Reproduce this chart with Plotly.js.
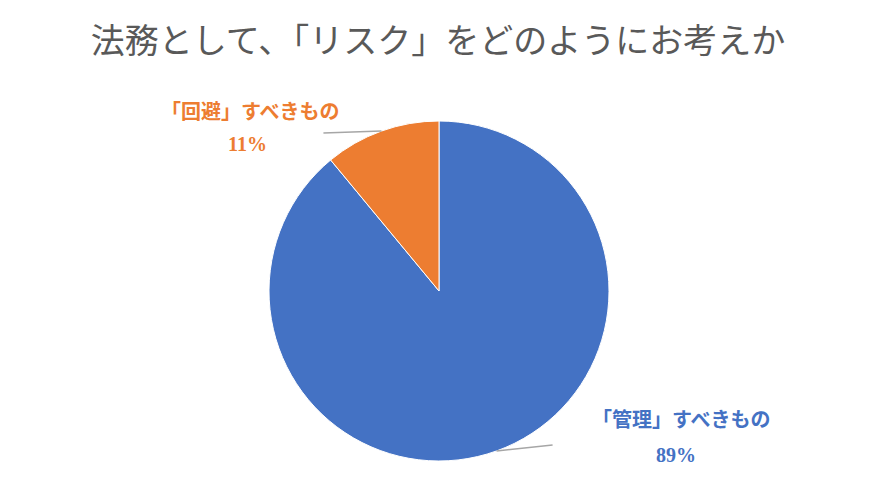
<!DOCTYPE html>
<html>
<head>
<meta charset="utf-8">
<script src="https://cdn.plot.ly/plotly-3.0.1.min.js"></script>
<style>
  html, body { margin: 0; padding: 0; background: #fff; }
  #chart { width: 876px; height: 503px; }
</style>
</head>
<body>
<div id="chart"></div>
<script>
const chartTitle = "法務として、「リスク」をどのようにお考えか";
const categories = ["「管理」すべきもの", "「回避」すべきもの"];
const shares = [89, 11];
const colors = ["#4472C4", "#ED7D31"];

const W = 876, H = 503;
const pieCx = 439, pieCy = 291, pieR = 170;
const fontFam = "'Liberation Serif', 'Noto Sans CJK JP', serif";

// leader line + label placement, measured from each slice's mid point on the rim
const labelShift = [
  { dx: 56, dy: -6, cx: 185, cy: -31, px: 179, py: 4 },
  { dx: -58, dy: 2, cx: -131, cy: -19, px: -134, py: 13 },
];

const total = shares.reduce((a, b) => a + b, 0);
let start = 0;
const shapes = [];
const annotations = [];
const toPaper = (x, y) => ({ x: x / W, y: 1 - y / H });

shares.forEach((v, i) => {
  const mid = (start + v / 2) / total * 2 * Math.PI;
  start += v;
  const ex = pieCx + pieR * Math.sin(mid);
  const ey = pieCy - pieR * Math.cos(mid);
  const s = labelShift[i];
  const a = toPaper(ex, ey);
  const b = toPaper(ex + s.dx, ey + s.dy);
  shapes.push({
    type: "line", xref: "paper", yref: "paper",
    x0: a.x, y0: a.y, x1: b.x, y1: b.y,
    line: { color: "#A6A6A6", width: 1.5 },
  });
  const c = toPaper(ex + s.cx, ey + s.cy);
  const p = toPaper(ex + s.px, ey + s.py);
  const font = { family: fontFam, size: 20, color: colors[i], weight: "bold" };
  annotations.push({
    xref: "paper", yref: "paper", x: c.x, y: c.y,
    xanchor: "center", yanchor: "middle", showarrow: false,
    text: categories[i], font: font,
  });
  annotations.push({
    xref: "paper", yref: "paper", x: p.x, y: p.y,
    xanchor: "center", yanchor: "middle", showarrow: false,
    text: v + "%", font: font,
  });
});

const data = [{
  type: "pie",
  labels: categories,
  values: shares,
  sort: false,
  direction: "clockwise",
  rotation: 0,
  marker: { colors: colors, line: { color: "#ffffff", width: 1 } },
  textinfo: "none",
  hoverinfo: "label+percent",
  domain: {
    x: [(pieCx - pieR) / W, (pieCx + pieR) / W],
    y: [1 - (pieCy + pieR) / H, 1 - (pieCy - pieR) / H],
  },
}];

const layout = {
  width: W, height: H,
  margin: { l: 0, r: 0, t: 0, b: 0 },
  paper_bgcolor: "#ffffff",
  showlegend: false,
  title: {
    text: chartTitle,
    x: 0.5, xanchor: "center",
    y: 1 - 41 / H, yanchor: "middle",
    font: { family: fontFam, size: 34, color: "#595959" },
  },
  shapes: shapes,
  annotations: annotations,
};

Plotly.newPlot("chart", data, layout, { displayModeBar: false });
</script>
</body>
</html>
